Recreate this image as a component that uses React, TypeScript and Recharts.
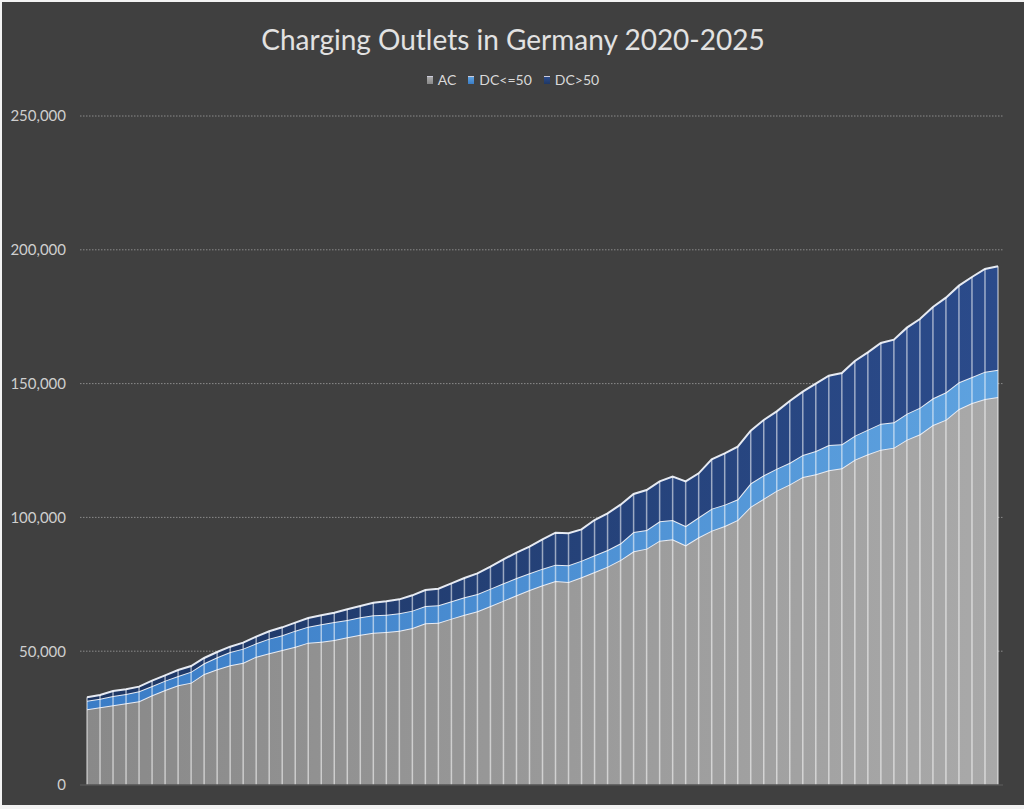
import { AreaChart, Area, XAxis, YAxis, CartesianGrid, ReferenceLine, Legend } from 'recharts';

// monthly snapshots, Jan 2020 - Nov 2025
const months = [
  '2020-01', '2020-02', '2020-03', '2020-04', '2020-05', '2020-06', '2020-07', '2020-08', '2020-09', '2020-10', '2020-11', '2020-12',
  '2021-01', '2021-02', '2021-03', '2021-04', '2021-05', '2021-06', '2021-07', '2021-08', '2021-09', '2021-10', '2021-11', '2021-12',
  '2022-01', '2022-02', '2022-03', '2022-04', '2022-05', '2022-06', '2022-07', '2022-08', '2022-09', '2022-10', '2022-11', '2022-12',
  '2023-01', '2023-02', '2023-03', '2023-04', '2023-05', '2023-06', '2023-07', '2023-08', '2023-09', '2023-10', '2023-11', '2023-12',
  '2024-01', '2024-02', '2024-03', '2024-04', '2024-05', '2024-06', '2024-07', '2024-08', '2024-09', '2024-10', '2024-11', '2024-12',
  '2025-01', '2025-02', '2025-03', '2025-04', '2025-05', '2025-06', '2025-07', '2025-08', '2025-09', '2025-10', '2025-11',
];

const acOutlets = [
  28280, 29020, 29770, 30520, 31270, 33510, 35500, 37250, 38240, 41480,
  43220, 44720, 45710, 47960, 49200, 50450, 51690, 53190, 53570, 54190,
  55180, 56180, 56930, 57180, 57670, 58670, 60410, 60660, 62160, 63650,
  64900, 66890, 68880, 70880, 72870, 74620, 76200, 75860, 77610, 79600,
  81590, 84080, 87320, 88320, 91310, 91810, 89560, 92550, 95040, 96790,
  99030, 104010, 107000, 109990, 112300, 115100, 116100, 117590, 118340, 121580,
  123570, 125310, 126060, 129050, 131050, 134530, 136530, 140510, 142750, 144250, 145000,
];

const dcLowOutlets = [
  3240, 3240, 3490, 3490, 3730, 3490, 3490, 3480, 4110, 3990,
  4490, 4980, 5240, 4980, 5490, 5480, 5980, 5980, 6530, 6720,
  6480, 6480, 6470, 6470, 6480, 6480, 6480, 6480, 6480, 6480,
  6480, 6480, 6480, 6480, 6230, 6220, 6140, 6230, 6220, 6230,
  6230, 6230, 7230, 6970, 7220, 7220, 7230, 7480, 8230, 7970,
  7720, 8720, 8720, 8220, 8100, 8220, 8720, 9470, 8970, 8970,
  9220, 9720, 9470, 9720, 9960, 9970, 10210, 9970, 9720, 10210, 10210,
];

const dcHighOutlets = [
  1240, 1370, 1870, 1740, 1750, 1990, 1990, 2250, 2120, 1990,
  1990, 1990, 2240, 2490, 2740, 2990, 2990, 3240, 3300, 3490,
  3990, 4230, 4740, 4990, 5230, 5730, 5980, 6230, 6720, 7230,
  7720, 8220, 8970, 9460, 9970, 10970, 11960, 11960, 11710, 13200,
  13700, 14450, 14200, 14950, 14950, 16200, 16690, 16440, 18430, 19180,
  19690, 19690, 20680, 21430, 23100, 23670, 25160, 25910, 26650, 27900,
  28900, 30150, 30890, 32140, 33130, 34130, 35380, 36120, 37370, 38370, 38620,
];

const yTicks = [0, 50000, 100000, 150000, 200000, 250000];

const data = months.map((month, i) => ({
  month,
  ac: acOutlets[i],
  dcLow: dcLowOutlets[i],
  dcHigh: dcHighOutlets[i],
  total: acOutlets[i] + dcLowOutlets[i] + dcHighOutlets[i],
}));

const series = [
  { key: 'ac', name: 'AC', from: '#898989', to: '#a9a9a9' },
  { key: 'dcLow', name: 'DC<=50', from: '#3a7cc6', to: '#5ea2df' },
  { key: 'dcHigh', name: 'DC>50', from: '#1e3764', to: '#2b4b8b' },
];

const FONT = 'Lato, "Open Sans", sans-serif';

const ChartLegend = () => (
  <div style={{ display: 'flex', justifyContent: 'center', fontFamily: FONT, fontSize: 14, lineHeight: 1.2, color: '#d9d9d9' }}>
    {series.map((s) => (
      <span key={s.key} style={{ display: 'inline-flex', alignItems: 'center', margin: '0 6px' }}>
        <span style={{ width: 6, height: 7, marginRight: 5, background: `linear-gradient(${s.to}, ${s.from})`, borderTop: '1px solid #ccd' }} />
        {s.name}
      </span>
    ))}
  </div>
);

const App = () => {
  return (
    <div style={{ position: 'absolute', left: 0, top: 0, width: 1024, height: 809, background: '#f3f3f3' }}>
      <div style={{ position: 'absolute', left: 2, top: 2, width: 1022, height: 803, background: '#404040' }}>
        <div style={{ position: 'absolute', top: 21, width: 1022, textAlign: 'center', fontFamily: FONT, fontSize: 28, lineHeight: 1.2, color: '#e2e2e2' }}>
          Charging Outlets in Germany 2020-2025
        </div>
        <AreaChart width={1022} height={803} data={data} margin={{ top: 114, right: 21, bottom: 0, left: 0 }}>
          <defs>
            {series.map((s) => (
              <linearGradient key={s.key} id={`fill-${s.key}`} x1="0" y1="0" x2="1" y2="0">
                <stop offset="0%" stopColor={s.from} />
                <stop offset="100%" stopColor={s.to} />
              </linearGradient>
            ))}
          </defs>
          <CartesianGrid vertical={false} stroke="#8a8a8a" strokeDasharray="1.5 1.5" horizontalValues={yTicks.slice(1)} />
          <XAxis dataKey="month" tick={false} tickLine={false} height={20} padding={{ left: 7, right: 5 }} axisLine={{ stroke: '#555555', strokeWidth: 1.5 }} />
          <YAxis domain={[0, 250000]} ticks={yTicks} width={78} axisLine={false} tickLine={false} tickSize={0} tickMargin={14}
            tickFormatter={(v: number) => v.toLocaleString('en-US')}
            tick={{ fill: '#cfcfcf', fontSize: 15, fontFamily: FONT }} />
          {series.map((s) => (
            <Area key={s.key} type="linear" dataKey={s.key} name={s.name} stackId="outlets" fill={`url(#fill-${s.key})`} fillOpacity={1}
              stroke="#e6eaf2" strokeWidth={2} isAnimationActive={false} />
          ))}
          {data.map((d) => (
            <ReferenceLine key={d.month} segment={[{ x: d.month, y: 0 }, { x: d.month, y: d.total }]} stroke="#ffffff" strokeOpacity={0.55} strokeWidth={1.5} />
          ))}
          <Legend verticalAlign="middle" align="center" wrapperStyle={{ top: 70, left: 0, width: 1022 }} content={() => <ChartLegend />} />
        </AreaChart>
      </div>
    </div>
  );
};

export default App;
